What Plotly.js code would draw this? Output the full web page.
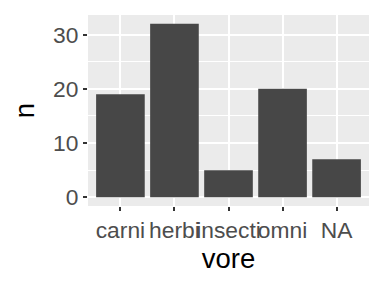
<!DOCTYPE html>
<html><head><meta charset="utf-8">
<script src="https://cdn.plot.ly/plotly-3.0.1.min.js"></script>
<style>html,body{margin:0;padding:0;background:#fff}</style>
</head><body>
<div id="chart" style="width:384px;height:288px"></div>
<script>
const categories = ["carni", "herbi", "insecti", "omni", "NA"];
const counts = [19, 32, 5, 20, 7];
const yTicks = [0, 10, 20, 30];

const trace = {
  type: "bar",
  x: categories,
  y: counts,
  width: 0.9,
  marker: {color: "#474747", line: {width: 0}},
  hoverinfo: "none"
};
const layout = {
  width: 384, height: 288,
  margin: {l: 88, r: 15, t: 15, b: 82},
  paper_bgcolor: "#ffffff",
  plot_bgcolor: "#EBEBEB",
  showlegend: false,
  font: {family: "Liberation Sans, Arial, sans-serif"},
  xaxis: {
    type: "category",
    range: [-0.6, 4.6],
    showgrid: true, gridcolor: "#ffffff", gridwidth: 2,
    zeroline: false, showline: false,
    ticks: "outside", ticklen: 4, tickwidth: 2, tickcolor: "#333333",
    tickangle: 0,
    tickfont: {size: 22.8, color: "#4D4D4D"},
    automargin: false,
    title: {text: "vore", font: {size: 27.5, color: "#000000"}, standoff: 4}
  },
  yaxis: {
    range: [-1.6, 33.6],
    tickvals: yTicks,
    showgrid: true, gridcolor: "#ffffff", gridwidth: 2,
    minor: {showgrid: true, gridcolor: "#ffffff", gridwidth: 1, tickvals: [5, 15, 25], ticks: ""},
    zeroline: false, showline: false,
    ticks: "outside", ticklen: 4, tickwidth: 2, tickcolor: "#333333",
    tickfont: {size: 22.8, color: "#4D4D4D"},
    automargin: false,
    title: {text: "n", font: {size: 27.5, color: "#000000"}, standoff: 10}
  },
  bargap: 0.1
};
Plotly.newPlot("chart", [trace], layout, {staticPlot: true, displayModeBar: false});
</script>
</body></html>
